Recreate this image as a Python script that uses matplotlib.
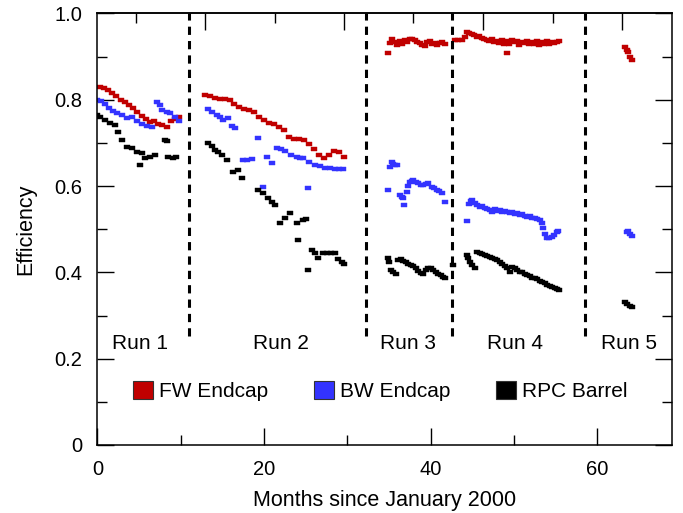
import matplotlib
matplotlib.use("Agg")
import matplotlib.pyplot as plt
from matplotlib.patches import Patch

plt.rcParams["font.family"] = ["Liberation Sans", "DejaVu Sans"]

# FW Endcap efficiency (runs 1-5)
fw_x = [0.3, 0.8, 1.3, 1.8, 2.3, 2.8, 3.3, 3.8, 4.3, 4.8, 5.3, 5.8, 6.3, 6.8, 7.3, 7.8, 8.3, 8.8, 9.3, 9.8,
        12.9, 13.5, 14.1, 14.7, 15.3, 15.9, 16.4, 17.0, 17.6, 18.2, 18.8, 19.4, 20.0, 20.6, 21.2, 21.8, 22.4,
        23.0, 23.6, 24.2, 24.8, 25.4, 26.0, 26.6, 27.2, 27.8, 28.4, 29.0, 29.6,
        34.9, 35.1, 35.4, 35.7, 36.0, 36.3, 36.6, 36.9, 37.2, 37.5, 37.8, 38.1, 38.4, 38.7, 39.0, 39.3, 39.6,
        39.9, 40.2, 40.5, 40.8, 41.1, 41.4, 41.7,
        42.9, 43.3, 43.7, 44.1, 44.3, 44.6, 44.9, 45.2, 45.5, 45.8, 46.1, 46.4, 46.7, 47.0, 47.3, 47.6, 47.9,
        48.2, 48.5, 48.8, 49.1, 49.4, 49.7, 50.0, 50.3, 50.6, 50.9, 51.2, 51.5, 51.8, 52.1, 52.4, 52.7, 53.0,
        53.3, 53.6, 53.9, 54.2, 54.5, 54.8, 55.1, 55.4, 49.1,
        63.3, 63.5, 63.7, 63.9, 64.1]
fw_y = [0.830, 0.827, 0.822, 0.815, 0.808, 0.800, 0.795, 0.787, 0.780, 0.772, 0.763, 0.755, 0.748, 0.752,
        0.745, 0.742, 0.738, 0.750, 0.755, 0.760,
        0.811, 0.808, 0.803, 0.802, 0.801, 0.799, 0.790, 0.783, 0.779, 0.776, 0.772, 0.760, 0.754, 0.746,
        0.743, 0.738, 0.731, 0.713, 0.708, 0.708, 0.707, 0.697, 0.685, 0.672, 0.664, 0.672, 0.682, 0.680, 0.668,
        0.908, 0.931, 0.940, 0.935, 0.928, 0.937, 0.930, 0.938, 0.934, 0.942, 0.940, 0.938, 0.935, 0.932,
        0.928, 0.925, 0.933, 0.937, 0.930, 0.931, 0.927, 0.932, 0.935, 0.929,
        0.938, 0.938, 0.939, 0.945, 0.958, 0.955, 0.952, 0.950, 0.946, 0.948, 0.943, 0.940, 0.938, 0.936,
        0.940, 0.934, 0.937, 0.932, 0.939, 0.930, 0.936, 0.929, 0.938, 0.933, 0.937, 0.928, 0.935, 0.931,
        0.937, 0.929, 0.934, 0.930, 0.936, 0.928, 0.934, 0.930, 0.936, 0.929, 0.935, 0.931, 0.934, 0.937, 0.908,
        0.922, 0.915, 0.910, 0.900, 0.892]

# BW Endcap efficiency
bw_x = [0.0, 0.4, 0.9, 1.4, 1.9, 2.4, 3.0, 3.6, 4.2, 4.8, 5.4, 6.0, 6.6, 7.2, 7.5, 7.8, 8.3, 8.7, 9.3, 9.8,
        13.3, 13.8, 14.3, 14.7, 15.1, 15.7, 16.1, 16.5, 17.5, 18.0, 18.5, 19.3, 19.9, 20.3, 20.9, 21.5, 22.0,
        22.5, 23.2, 23.9, 24.3, 24.7, 25.3, 25.4, 26.1, 26.7, 27.3, 27.9, 28.5, 29.0, 29.5,
        34.9, 35.1, 35.3, 35.5, 35.7, 35.9, 36.3, 36.5, 36.7, 36.8, 37.1, 37.3, 37.5, 37.7, 37.9, 38.2, 38.5,
        38.8, 39.1, 39.4, 39.7, 40.1, 40.4, 40.7, 41.0, 41.3, 41.7,
        44.3, 44.6, 44.8, 45.0, 45.3, 45.6, 45.9, 46.2, 46.5, 46.8, 47.1, 47.4, 47.7, 48.0, 48.3, 48.6, 48.9,
        49.2, 49.5, 49.8, 50.1, 50.4, 50.7, 51.0, 51.3, 51.6, 51.9, 52.2, 52.5, 52.8, 53.1, 53.3, 53.5, 53.7,
        53.9, 54.2, 54.5, 54.8, 55.1, 55.3,
        63.5, 63.7, 63.9, 64.1]
bw_y = [0.800, 0.797, 0.790, 0.780, 0.775, 0.770, 0.765, 0.758, 0.760, 0.752, 0.745, 0.740, 0.738, 0.795,
        0.788, 0.776, 0.772, 0.769, 0.761, 0.750,
        0.778, 0.772, 0.765, 0.760, 0.753, 0.757, 0.740, 0.734, 0.660, 0.661, 0.662, 0.711, 0.599, 0.668,
        0.653, 0.688, 0.686, 0.682, 0.672, 0.667, 0.666, 0.664, 0.595, 0.655, 0.649, 0.646, 0.643, 0.641,
        0.640, 0.640, 0.639,
        0.591, 0.645, 0.655, 0.652, 0.650, 0.649, 0.579, 0.575, 0.572, 0.556, 0.587, 0.600, 0.610, 0.612,
        0.614, 0.610, 0.606, 0.602, 0.603, 0.605, 0.606, 0.599, 0.596, 0.591, 0.588, 0.583, 0.564,
        0.518, 0.558, 0.565, 0.568, 0.560, 0.556, 0.552, 0.553, 0.549, 0.547, 0.545, 0.541, 0.546, 0.543,
        0.545, 0.540, 0.542, 0.541, 0.538, 0.540, 0.536, 0.537, 0.533, 0.535, 0.531, 0.529, 0.531, 0.526,
        0.527, 0.523, 0.521, 0.515, 0.502, 0.490, 0.480, 0.479, 0.482, 0.486, 0.494, 0.495,
        0.494, 0.497, 0.490, 0.485]

# RPC Barrel efficiency
rpc_x = [0.0, 0.3, 0.9, 1.5, 2.1, 2.5, 3.0, 3.6, 4.2, 4.8, 5.1, 5.4, 5.7, 6.3, 6.9, 8.1, 8.3, 8.5, 9.1, 9.4,
         13.3, 13.7, 14.1, 14.5, 14.9, 15.5, 16.3, 16.9, 17.3, 19.3, 19.9, 20.5, 21.0, 21.3, 21.9, 22.5, 23.1,
         23.9, 24.1, 24.7, 25.0, 25.3, 25.7, 26.1, 26.5, 27.1, 27.5, 28.0, 28.5, 28.9, 29.3, 29.6,
         34.9, 35.0, 35.2, 35.5, 35.8, 36.1, 36.4, 36.7, 37.0, 37.3, 37.6, 37.9, 38.2, 38.5, 38.8, 39.1, 39.4,
         39.7, 40.0, 40.3, 40.6, 40.9, 41.2, 41.5, 41.7,
         42.7, 44.3, 44.5, 44.7, 45.0, 45.3, 45.6, 45.9, 46.2, 46.5, 46.8, 47.1, 47.4, 47.7, 48.0, 48.3, 48.6,
         48.9, 49.2, 49.5, 49.8, 50.1, 50.4, 50.7, 51.0, 51.3, 51.6, 51.9, 52.2, 52.5, 52.8, 53.1, 53.4, 53.7,
         54.0, 54.3, 54.6, 54.9, 55.2, 55.4,
         63.3, 63.6, 63.9, 64.1]
rpc_y = [0.765, 0.760, 0.753, 0.747, 0.742, 0.726, 0.707, 0.691, 0.688, 0.680, 0.649, 0.676, 0.664, 0.668,
         0.672, 0.707, 0.705, 0.668, 0.664, 0.668,
         0.699, 0.692, 0.684, 0.678, 0.672, 0.660, 0.633, 0.637, 0.618, 0.591, 0.583, 0.572, 0.563, 0.556,
         0.514, 0.525, 0.537, 0.514, 0.475, 0.521, 0.523, 0.406, 0.452, 0.445, 0.433, 0.444, 0.444, 0.444,
         0.444, 0.432, 0.425, 0.420,
         0.433, 0.425, 0.405, 0.400, 0.396, 0.428, 0.430, 0.426, 0.423, 0.420, 0.416, 0.414, 0.410, 0.404,
         0.398, 0.396, 0.405, 0.410, 0.409, 0.405, 0.402, 0.397, 0.393, 0.390, 0.386,
         0.417, 0.440, 0.433, 0.425, 0.418, 0.410, 0.448, 0.446, 0.443, 0.440, 0.437, 0.435, 0.433, 0.430,
         0.428, 0.425, 0.420, 0.415, 0.410, 0.400, 0.413, 0.410, 0.405, 0.402, 0.400, 0.396, 0.394, 0.392,
         0.388, 0.386, 0.384, 0.379, 0.377, 0.375, 0.371, 0.369, 0.367, 0.364, 0.361, 0.359,
         0.332, 0.326, 0.322, 0.320]

series_labels = ["FW Endcap", "BW Endcap", "RPC Barrel"]
series_colors = ["#c00000", "#3333ff", "#000000"]

run_bounds = [10.97, 32.25, 42.53, 58.5]
run_labels = ["Run 1", "Run 2", "Run 3", "Run 4", "Run 5"]
run_label_x = [5.1, 22.0, 37.3, 50.1, 63.75]

top_major = [12.95, 29.6, 46.3, 62.9]
top_minor = [4.6, 21.3, 37.9, 54.7]

fig = plt.figure(figsize=(6.83, 5.13), dpi=100)
ax = fig.add_axes([0.1425, 0.1326, 0.8409, 0.8411])

# short horizontal dash marker
dash = [(-1, -0.5), (1, -0.5), (1, 0.5), (-1, 0.5), (-1, -0.5)]
for xs, ys, c in zip([fw_x, bw_x, rpc_x], [fw_y, bw_y, rpc_y], series_colors):
    ax.plot(xs, ys, ls="none", marker=dash, ms=4.6, color=c, mec=c, mew=0.3)

for b in run_bounds:
    ax.axvline(b, ymin=0.253, ymax=1.0, color="black", lw=2.2, dashes=(2.7, 2.0))

for lab, xl in zip(run_labels, run_label_x):
    ax.text(xl, 0.2225, lab, ha="center", va="baseline", fontsize=15)

ax.set_xlim(0, 68.9)
ax.set_ylim(0, 1.0)
ax.set_xticks([0, 20, 40, 60])
ax.set_xticks([10, 30, 50], minor=True)
ax.set_yticks([0, 0.2, 0.4, 0.6, 0.8, 1.0], labels=["0", "0.2", "0.4", "0.6", "0.8", "1.0"])
ax.set_yticks([0.1, 0.3, 0.5, 0.7, 0.9], minor=True)
ax.tick_params(which="both", direction="in", right=True, labelsize=14.5, width=1)
ax.tick_params(axis="x", which="both", pad=11)
ax.tick_params(axis="y", which="both", pad=11)
ax.tick_params(which="major", length=12)
ax.tick_params(which="minor", length=7)
for s in ax.spines.values():
    s.set_linewidth(1.1)

sec = ax.secondary_xaxis("top")
sec.set_xticks(top_major, labels=[""] * len(top_major))
sec.set_xticks(top_minor, labels=[""] * len(top_minor), minor=True)
sec.tick_params(which="both", direction="in", width=1)
sec.tick_params(which="major", length=12)
sec.tick_params(which="minor", length=7)
sec.spines["top"].set_linewidth(1.1)

ax.set_xlabel("Months since January 2000", fontsize=15.5, labelpad=8)
ax.set_ylabel("Efficiency", fontsize=15.5, labelpad=13)

handles = [Patch(facecolor=c, edgecolor="#333333", lw=0.8, label=l) for c, l in zip(series_colors, series_labels)]
ax.legend(handles=handles, loc="center left", bbox_to_anchor=(0.062, 0.125), ncol=3, frameon=False,
          fontsize=15, handlelength=0.95, handleheight=0.95, handletextpad=0.3, columnspacing=2.2,
          borderpad=0, borderaxespad=0)

fig.savefig("out.png", dpi=100)
